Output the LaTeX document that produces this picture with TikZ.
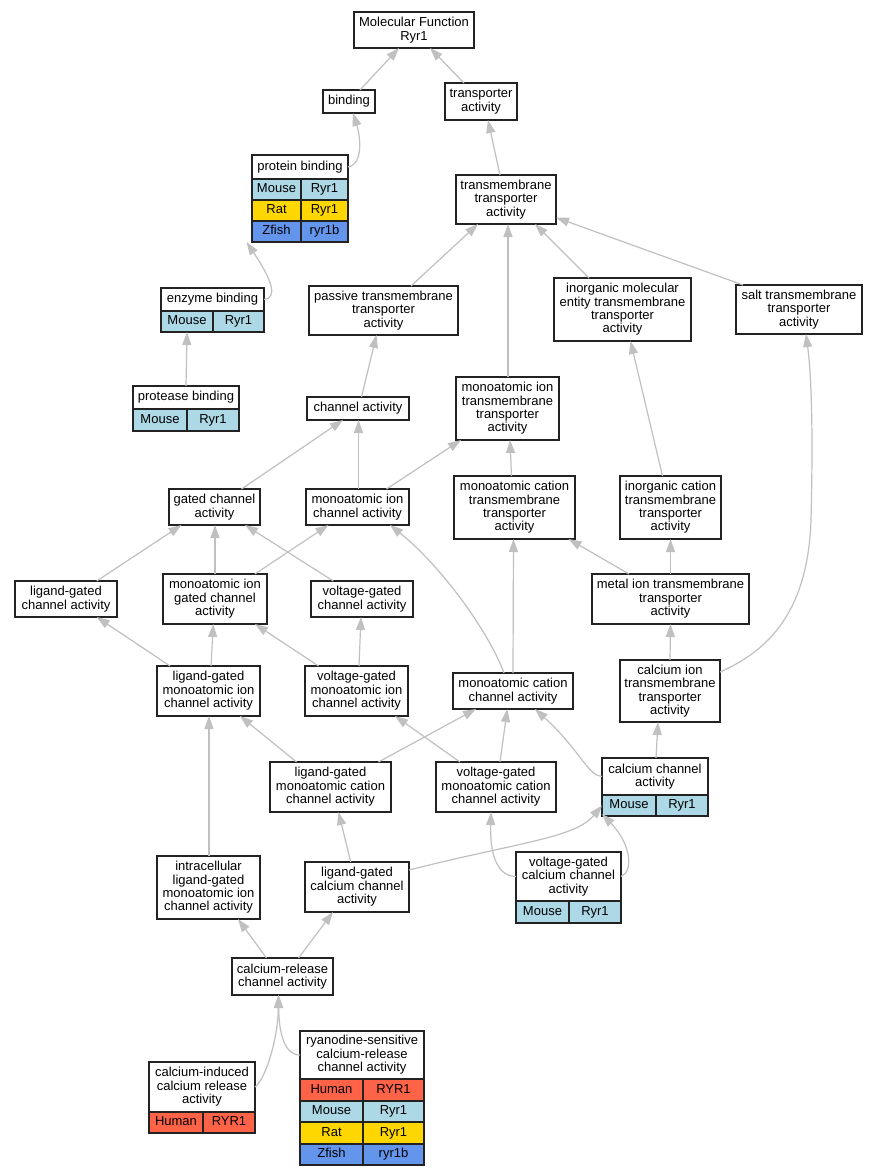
\documentclass[tikz,border=0pt]{standalone}
\usepackage{fontspec}
\setmainfont{Liberation Sans}
\usetikzlibrary{arrows.meta}
\definecolor{bcol}{HTML}{222222}
\definecolor{ecol}{HTML}{C0C0C0}
\definecolor{mouse}{HTML}{ADD8E6}
\definecolor{rat}{HTML}{FFD700}
\definecolor{zfish}{HTML}{6495ED}
\definecolor{human}{HTML}{FF6347}
\begin{document}
\begin{tikzpicture}[x=1pt,y=-1pt,
  box/.style={draw=bcol, line width=1.3pt, fill=white, inner sep=0pt, outer sep=0pt, align=center, font=\fontsize{13}{13.4}\selectfont},
  one/.style={text height=9.4pt, text depth=2.8pt},
  sz/.style 2 args={minimum width=#1pt, minimum height=#2pt},
  edge/.style={draw=ecol, line width=1.2pt, -{Triangle[length=13pt,width=9pt]}},
]
\fill[white] (0,0) rectangle (877,1176);
\useasboundingbox (0,0) rectangle (877,1176);

% ---------- nodes ----------
\node[box,sz={120}{36}] (mf) at (414,30) {Molecular Function\\Ryr1};
\node[box,one,sz={52}{23}] (bind) at (349,101.5) {binding};
\node[box,sz={72}{37}] (tra) at (481,101.5) {transporter\\activity};

\node[box,one,sz={96}{24}] (pb) at (300,167) {protein binding};
\node[box,one,sz={49}{21},fill=mouse] (pbm) at (276.5,189.5) {Mouse};
\node[box,one,sz={47}{21},fill=mouse] (pbmg) at (324.5,189.5) {Ryr1};
\node[box,one,sz={49}{21},fill=rat] (pbr) at (276.5,210.5) {Rat};
\node[box,one,sz={47}{21},fill=rat] (pbrg) at (324.5,210.5) {Ryr1};
\node[box,one,sz={49}{21},fill=zfish] (pbz) at (276.5,231.5) {Zfish};
\node[box,one,sz={47}{21},fill=zfish] (pbzg) at (324.5,231.5) {ryr1b};

\node[box,sz={100}{49}] (tm) at (506,199.5) {transmembrane\\transporter\\activity};

\node[box,one,sz={103}{23}] (eb) at (212.5,299.5) {enzyme binding};
\node[box,one,sz={52}{21},fill=mouse] (ebm) at (187,321.5) {Mouse};
\node[box,one,sz={51}{21},fill=mouse] (ebmg) at (238.5,321.5) {Ryr1};

\node[box,sz={149}{49}] (pas) at (383.5,310.5) {passive transmembrane\\transporter\\activity};
\node[box,sz={137}{63}] (imol) at (622.5,309.5) {inorganic molecular\\entity transmembrane\\transporter\\activity};
\node[box,sz={126}{49}] (salt) at (799,309.5) {salt transmembrane\\transporter\\activity};

\node[box,one,sz={106}{23}] (prot) at (186,397.5) {protease binding};
\node[box,one,sz={54}{22},fill=mouse] (protm) at (160,420) {Mouse};
\node[box,one,sz={52}{22},fill=mouse] (protmg) at (213,420) {Ryr1};

\node[box,one,sz={102}{23}] (chan) at (358,408.5) {channel activity};
\node[box,sz={103}{63}] (mitm) at (507.5,408.5) {monoatomic ion\\transmembrane\\transporter\\activity};

\node[box,sz={91}{36}] (gated) at (214.5,507) {gated channel\\activity};
\node[box,sz={103}{36}] (mic) at (357.5,507) {monoatomic ion\\channel activity};
\node[box,sz={121}{63}] (mctm) at (514.5,507.5) {monoatomic cation\\transmembrane\\transporter\\activity};
\node[box,sz={101}{63}] (icat) at (670.5,507.5) {inorganic cation\\transmembrane\\transporter\\activity};

\node[box,sz={102}{36}] (lgc) at (66,599) {ligand-gated\\channel activity};
\node[box,sz={104}{50}] (migc) at (215,599) {monoatomic ion\\gated channel\\activity};
\node[box,sz={102}{36}] (vgc) at (362,599) {voltage-gated\\channel activity};
\node[box,sz={157}{50}] (metal) at (670.5,599) {metal ion transmembrane\\transporter\\activity};

\node[box,sz={103}{50}] (lgmi) at (208.5,691) {ligand-gated\\monoatomic ion\\channel activity};
\node[box,sz={103}{50}] (vgmi) at (356.5,691) {voltage-gated\\monoatomic ion\\channel activity};
\node[box,sz={120}{36}] (mcc) at (513,691) {monoatomic cation\\channel activity};
\node[box,sz={100}{62}] (catm) at (670,691) {calcium ion\\transmembrane\\transporter\\activity};

\node[box,sz={121}{50}] (lgmc) at (330.5,787) {ligand-gated\\monoatomic cation\\channel activity};
\node[box,sz={120}{50}] (vgmc) at (496,787) {voltage-gated\\monoatomic cation\\channel activity};

\node[box,sz={106}{37}] (cc) at (655,776.5) {calcium channel\\activity};
\node[box,one,sz={54}{21},fill=mouse] (ccm) at (629,805.5) {Mouse};
\node[box,one,sz={52}{21},fill=mouse] (ccmg) at (682,805.5) {Ryr1};

\node[box,sz={103}{63}] (intra) at (208.5,887.5) {intracellular\\ligand-gated\\monoatomic ion\\channel activity};
\node[box,sz={104}{50}] (lgcc) at (357,887) {ligand-gated\\calcium channel\\activity};

\node[box,sz={105}{49}] (vgcc) at (568.5,876.5) {voltage-gated\\calcium channel\\activity};
\node[box,one,sz={53}{22},fill=mouse] (vgccm) at (542.5,912) {Mouse};
\node[box,one,sz={52}{22},fill=mouse] (vgccmg) at (595,912) {Ryr1};

\node[box,sz={101}{37}] (crel) at (282.5,976.5) {calcium-release\\channel activity};

\node[box,sz={106}{50}] (cicr) at (202,1087) {calcium-induced\\calcium release\\activity};
\node[box,one,sz={54}{21},fill=human] (cicrh) at (176,1122.5) {Human};
\node[box,one,sz={52}{21},fill=human] (cicrhg) at (229,1122.5) {RYR1};

\node[box,sz={124}{48}] (ryr) at (362,1055) {ryanodine-sensitive\\calcium-release\\channel activity};
\node[box,one,sz={63}{22},fill=human] (ryrh) at (331.5,1090) {Human};
\node[box,one,sz={61}{22},fill=human] (ryrhg) at (393.5,1090) {RYR1};
\node[box,one,sz={63}{21},fill=mouse] (ryrm) at (331.5,1111.5) {Mouse};
\node[box,one,sz={61}{21},fill=mouse] (ryrmg) at (393.5,1111.5) {Ryr1};
\node[box,one,sz={63}{22},fill=rat] (ryrr) at (331.5,1133) {Rat};
\node[box,one,sz={61}{22},fill=rat] (ryrrg) at (393.5,1133) {Ryr1};
\node[box,one,sz={63}{21},fill=zfish] (ryrz) at (331.5,1154.5) {Zfish};
\node[box,one,sz={61}{21},fill=zfish] (ryrzg) at (393.5,1154.5) {ryr1b};

% ---------- edges ----------
\draw[edge] ([xshift=11pt]bind.north) -- ([xshift=-15pt]mf.south);
\draw[edge] ([xshift=-17pt]tra.north) -- ([xshift=16pt]mf.south);
\draw[edge] (pb.east) .. controls (364,164) and (360,135) .. ([xshift=4pt]bind.south);
\draw[edge] ([xshift=-6pt]tm.north) -- ([xshift=7pt]tra.south);
\draw[edge] (eb.east) .. controls (278,298) and (272,280) .. ([xshift=-30pt]pbz.south);
\draw[edge] ([xshift=27.5pt]pas.north) -- ([xshift=-28pt]tm.south);
\draw[edge] ([xshift=0.5pt]mitm.north) -- ([xshift=2pt]tm.south);
\draw[edge] ([xshift=-33.5pt]imol.north) -- ([xshift=29pt]tm.south);
\draw[edge] ([xshift=-56pt]salt.north) -- ([yshift=-18pt]tm.east);
\draw[edge] (prot.north) -- (ebm.south);
\draw[edge] ([xshift=3.5pt]chan.north) -- ([xshift=-7pt]pas.south);
\draw[edge] ([xshift=27pt]gated.north) -- ([xshift=-15pt]chan.south);
\draw[edge] ([xshift=1pt]mic.north) -- ([xshift=0.5pt]chan.south);
\draw[edge] ([xshift=29pt]mic.north) -- ([xshift=-46.5pt]mitm.south);
\draw[edge] ([xshift=-3pt]mctm.north) -- ([xshift=2.5pt]mitm.south);
\draw[edge] ([xshift=-8pt]icat.north) -- ([xshift=8pt]imol.south);
\draw[edge] ([yshift=19pt]catm.east) .. controls (770,650) and (808,610) .. (811,520) .. controls (813,440) and (812,380) .. ([xshift=7pt]salt.south);
\draw[edge] ([xshift=30.7pt]lgc.north) -- ([xshift=-33pt]gated.south);
\draw[edge] (migc.north) -- ([xshift=0.5pt]gated.south);
\draw[edge] ([xshift=40pt]migc.north) -- ([xshift=-29pt]mic.south);
\draw[edge] ([xshift=-28.7pt]vgc.north) -- ([xshift=30.5pt]gated.south);
\draw[edge] ([xshift=-9pt]mcc.north) .. controls (488,630) and (440,565) .. ([xshift=32.5pt]mic.south);
\draw[edge] (mcc.north) -- ([xshift=-1pt]mctm.south);
\draw[edge] ([xshift=-41.5pt]metal.north) -- ([xshift=54pt]mctm.south);
\draw[edge] (metal.north) -- (icat.south);
\draw[edge] (catm.north) -- (metal.south);
\draw[edge] ([xshift=-38.5pt]lgmi.north) -- ([xshift=30.7pt]lgc.south);
\draw[edge] ([xshift=2.5pt]lgmi.north) -- ([xshift=-1.7pt]migc.south);
\draw[edge] ([xshift=-38pt]vgmi.north) -- ([xshift=40pt]migc.south);
\draw[edge] ([xshift=2.5pt]vgmi.north) -- ([xshift=-1pt]vgc.south);
\draw[edge] ([xshift=-34pt]lgmc.north) -- ([xshift=31.5pt]lgmi.south);
\draw[edge] ([xshift=48pt]lgmc.north) -- ([xshift=-37pt]mcc.south);
\draw[edge] ([xshift=-36pt]vgmc.north) -- ([xshift=38.5pt]vgmi.south);
\draw[edge] ([xshift=4pt]vgmc.north) -- ([xshift=-5.7pt]mcc.south);
\draw[edge] (cc.west) .. controls (588,776) and (580,750) .. ([xshift=22pt]mcc.south);
\draw[edge] ([xshift=1pt]cc.north) -- ([xshift=-12pt]catm.south);
\draw[edge] ([xshift=0.5pt]intra.north) -- ([xshift=0.5pt]lgmi.south);
\draw[edge] ([xshift=-6.3pt]lgcc.north) -- ([xshift=8pt]lgmc.south);
\draw[edge] ([yshift=17pt]lgcc.east) .. controls (520,842) and (575,838) .. (ccm.west);
\draw[edge] (vgcc.west) .. controls (495,876) and (490,850) .. ([xshift=-5pt]vgmc.south);
\draw[edge] (vgcc.east) .. controls (633,872) and (632,845) .. ([yshift=2pt]ccm.south west);
\draw[edge] ([xshift=-16pt]crel.north) -- ([xshift=29.5pt]intra.south);
\draw[edge] ([xshift=16pt]crel.north) -- ([xshift=-24pt]lgcc.south);
\draw[edge] (cicr.east) .. controls (265,1080) and (278,1040) .. ([xshift=-4pt]crel.south);
\draw[edge] (ryr.west) .. controls (285,1055) and (279,1035) .. ([xshift=-4pt]crel.south);
\end{tikzpicture}
\end{document}
